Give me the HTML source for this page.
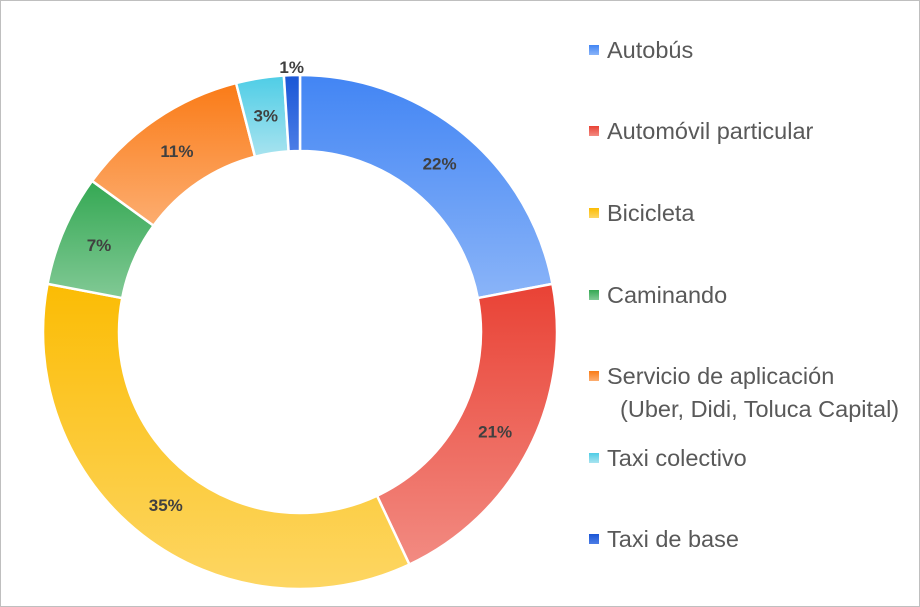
<!DOCTYPE html>
<html><head><meta charset="utf-8"><style>
html,body{margin:0;padding:0;background:#fff;}
svg{display:block;font-family:"Liberation Sans",Arial,sans-serif;}
</style></head><body>
<svg id="chart" width="920" height="607" viewBox="0 0 920 607">
<rect x="0.5" y="0.5" width="919" height="606" fill="#fff" stroke="#bfbfbf"/>
<defs id="defs"></defs>
<g id="slices"></g>
<g id="labels"></g>
<g id="legend"></g>
</svg>
<script>
const categories = ["Autobús","Automóvil particular","Bicicleta","Caminando","Servicio de aplicación","Taxi colectivo","Taxi de base"];
const legendLines = [["Autobús"],["Automóvil particular"],["Bicicleta"],["Caminando"],["Servicio de aplicación","  (Uber, Didi, Toluca Capital)"],["Taxi colectivo"],["Taxi de base"]];
const values = [22,21,35,7,11,3,1];
const darkColors = ["#4285f4","#e94235","#fbbc04","#34a853","#fa7b17","#4ecde6","#1a56d6"];
const lightColors = ["#8ab4f8","#f28b82","#fdd663","#81c995","#fcad70","#a8e3ef","#4c7de6"];
const NS="http://www.w3.org/2000/svg";
const cx=300, cy=332, R=257, r=181;
const total=values.reduce((a,b)=>a+b,0);
const defs=document.getElementById('defs'), gS=document.getElementById('slices'), gL=document.getElementById('labels'), gG=document.getElementById('legend');
function pt(a,rad){return [cx+rad*Math.sin(a), cy-rad*Math.cos(a)];}
let acc=0;
values.forEach((v,i)=>{
  const a0=acc/total*2*Math.PI; acc+=v; const a1=acc/total*2*Math.PI;
  const lg=document.createElementNS(NS,'linearGradient');
  lg.setAttribute('id','g'+i);lg.setAttribute('x1','0');lg.setAttribute('y1','0');lg.setAttribute('x2','0');lg.setAttribute('y2','1');
  lg.innerHTML=`<stop offset="0" stop-color="${darkColors[i]}"/><stop offset="1" stop-color="${lightColors[i]}"/>`;
  defs.appendChild(lg);
  const large=(a1-a0)>Math.PI?1:0;
  const [x0,y0]=pt(a0,R),[x1,y1]=pt(a1,R),[x2,y2]=pt(a1,r),[x3,y3]=pt(a0,r);
  const p=document.createElementNS(NS,'path');
  p.setAttribute('d',`M${x0},${y0}A${R},${R} 0 ${large} 1 ${x1},${y1}L${x2},${y2}A${r},${r} 0 ${large} 0 ${x3},${y3}Z`);
  p.setAttribute('fill',`url(#g${i})`);p.setAttribute('stroke','#fff');p.setAttribute('stroke-width','2.5');
  
  
  gS.appendChild(p);
  const am=(a0+a1)/2; let [lx,ly]=pt(am,(R+r)/2);
  if(v<=1){[lx,ly]=pt(am,R+8);}
  const t=document.createElementNS(NS,'text');
  t.setAttribute('x',lx);t.setAttribute('y',ly+6);t.setAttribute('text-anchor','middle');
  t.setAttribute('font-size','17');t.setAttribute('font-weight','bold');t.setAttribute('fill','#404040');
  t.textContent=v+'%';
  
  
  gL.appendChild(t);
});
const rowsY=[50,131,213,295,376,458,539];
legendLines.forEach((lines,i)=>{
  const g=document.createElementNS(NS,'g');
  
  
  const m=document.createElementNS(NS,'rect');
  m.setAttribute('x',589);m.setAttribute('y',rowsY[i]-5);m.setAttribute('width',10);m.setAttribute('height',10);
  m.setAttribute('fill',`url(#g${i})`);
  g.appendChild(m);
  lines.forEach((ln,j)=>{
    const t=document.createElementNS(NS,'text');
    t.setAttribute('x',607);t.setAttribute('y',rowsY[i]+8+j*33);
    t.setAttribute('font-size','23.5');t.setAttribute('fill','#595959');
    t.setAttribute('xml:space','preserve');t.style.whiteSpace='pre';
    t.textContent=ln;
    g.appendChild(t);
  });
  gG.appendChild(g);
});
</script>
</body></html>
